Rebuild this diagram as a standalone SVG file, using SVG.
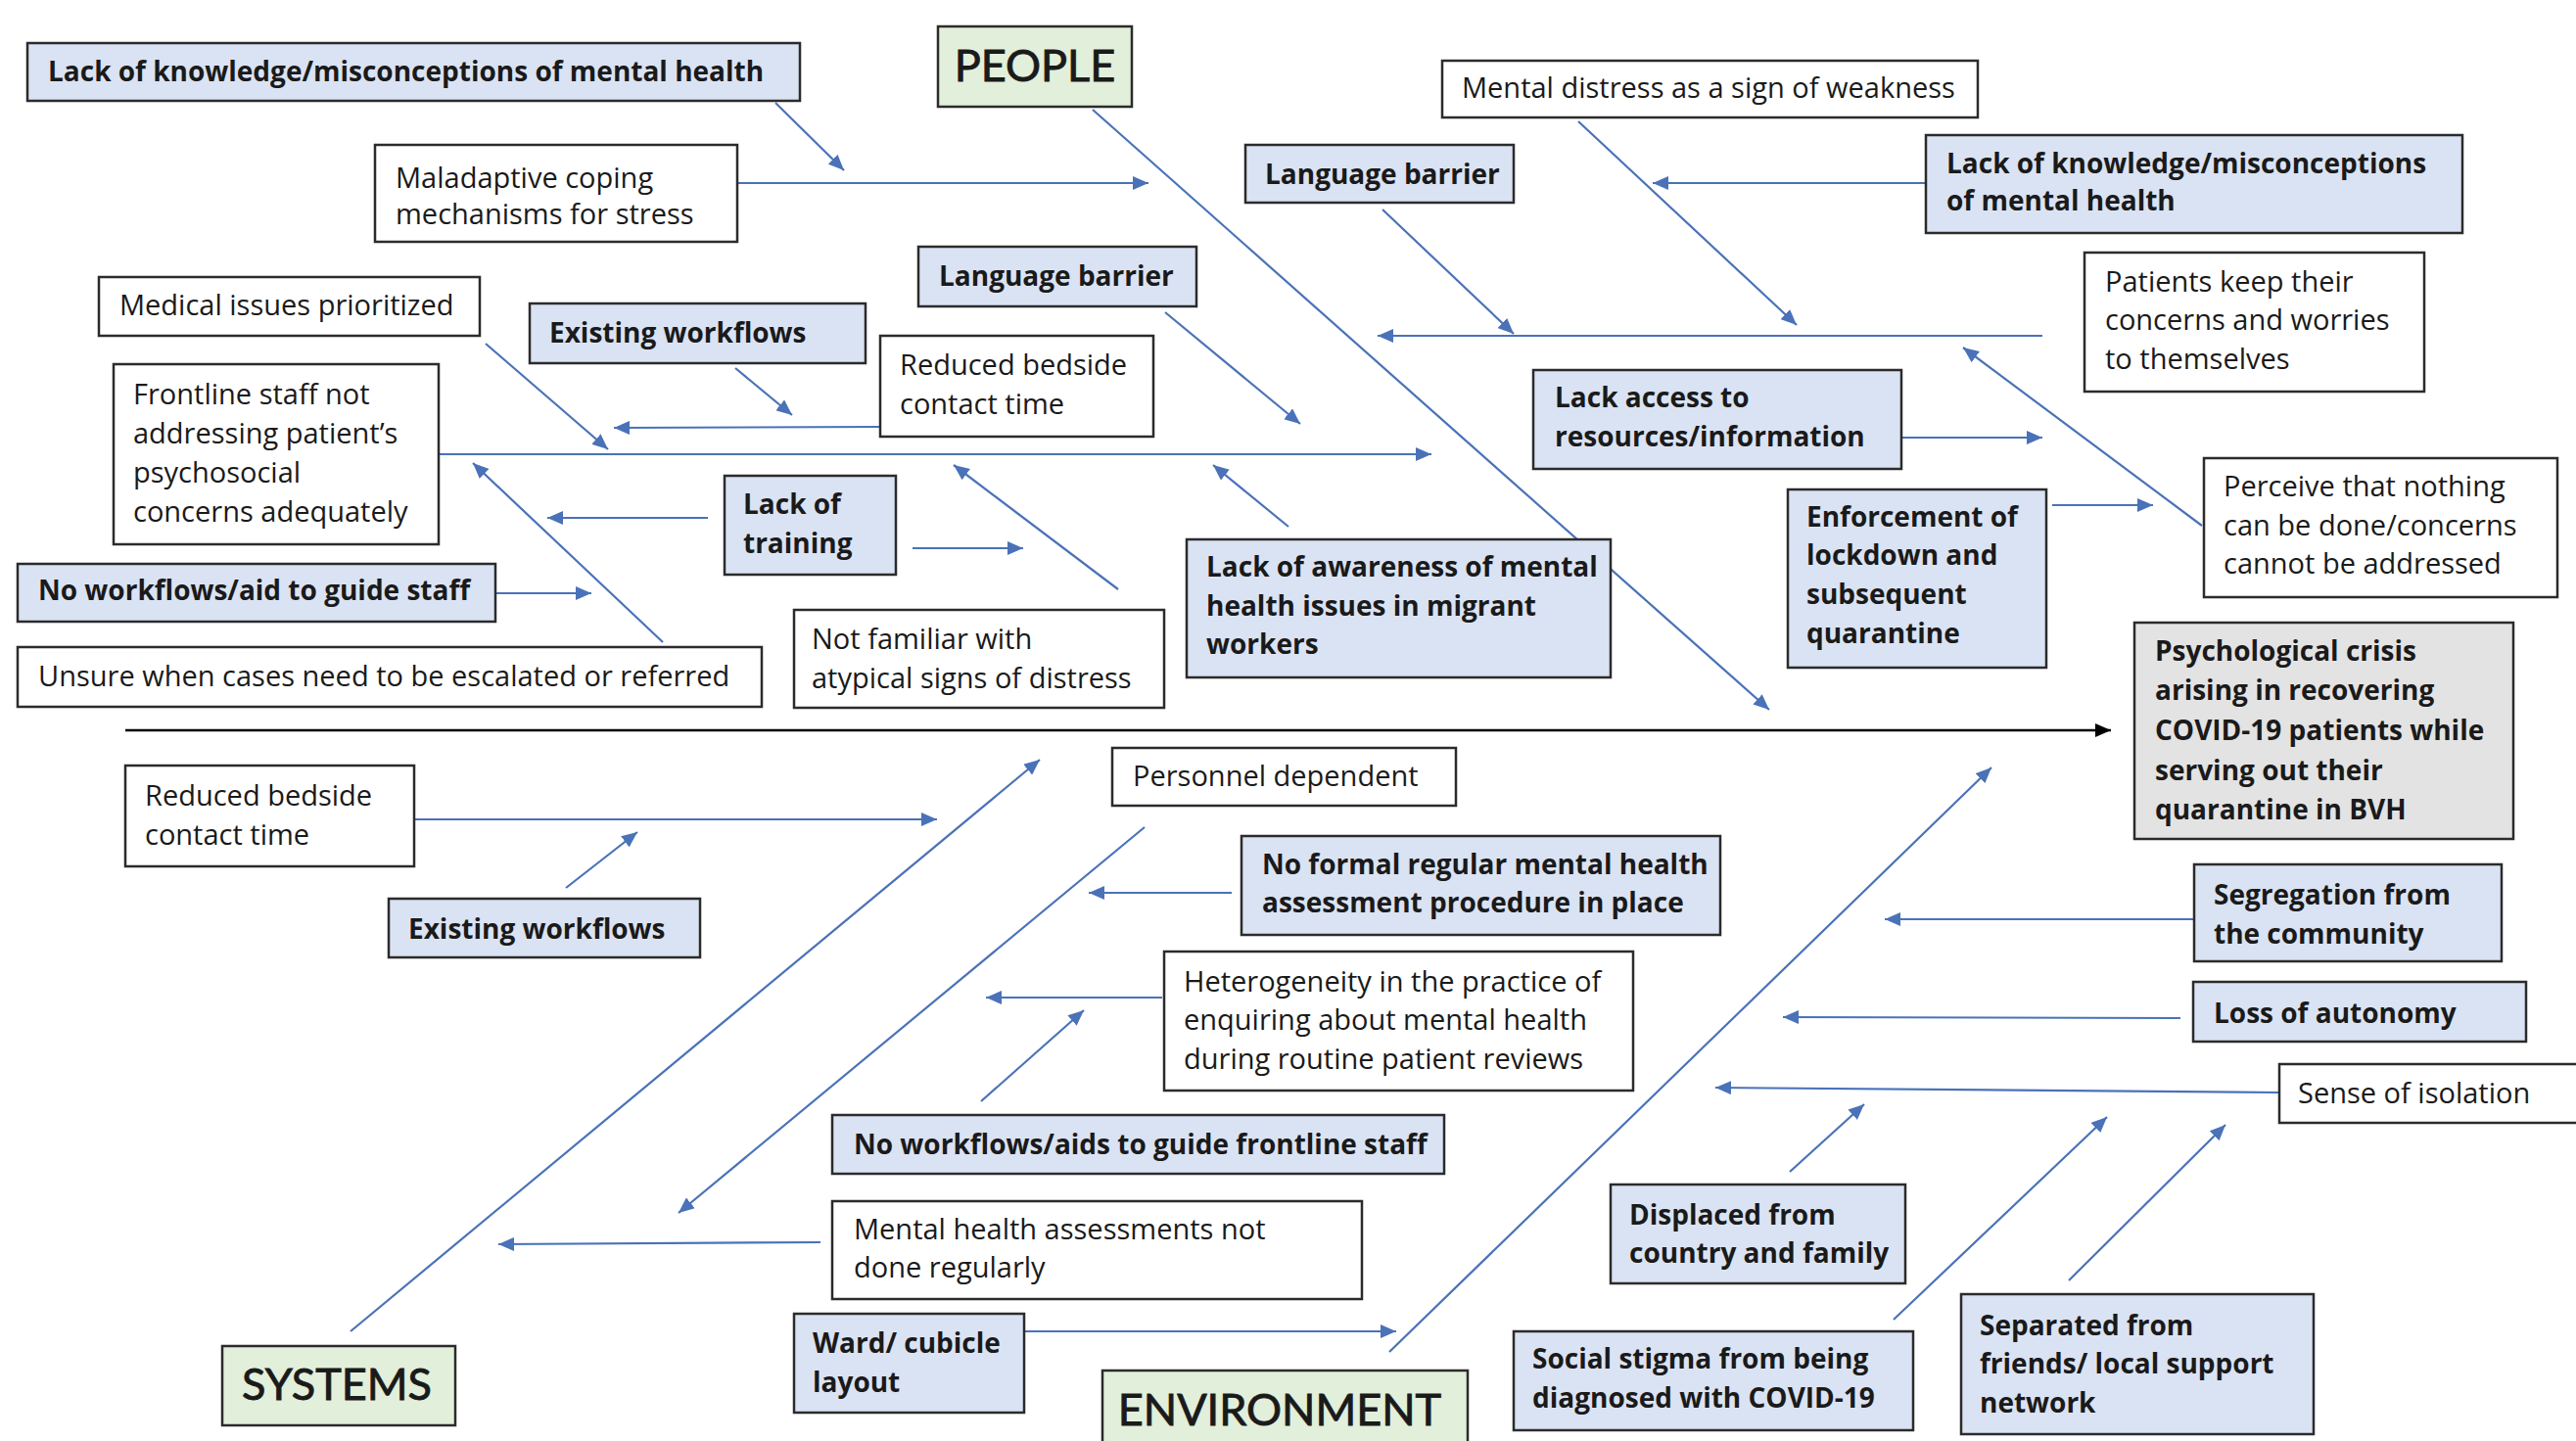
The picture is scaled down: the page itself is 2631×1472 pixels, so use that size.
<svg xmlns="http://www.w3.org/2000/svg" width="2631" height="1472" viewBox="0 0 2631 1472">
<defs>
  <style>
    .bx{stroke:#2b2b2b;stroke-width:2.5}
    .blue{fill:#dae3f3}
    .white{fill:#ffffff}
    .green{fill:#e2efda}
    .grey{fill:#e3e3e3}
    text{font-family:"Open Sans","Liberation Sans",sans-serif;fill:#1a1a1a}
    .t{font-size:29px}
    .tb{font-size:28px;font-weight:bold}
    .h{font-family:Lato,"Liberation Sans",sans-serif;font-size:45px;stroke:#1a1a1a;stroke-width:0.9}
    .c{stroke:#4a72b8;stroke-width:2.2;fill:none;marker-end:url(#ab)}
    .spine{stroke:#000;stroke-width:2.6;fill:none;marker-end:url(#ak)}
  </style>
  <marker id="ab" viewBox="0 0 16 14" refX="16" refY="7" markerWidth="16" markerHeight="14" markerUnits="userSpaceOnUse" orient="auto">
    <path d="M0,0 L16,7 L0,14 z" fill="#4a72b8"/>
  </marker>
  <marker id="ak" viewBox="0 0 16 14" refX="16" refY="7" markerWidth="16" markerHeight="14" markerUnits="userSpaceOnUse" orient="auto">
    <path d="M0,0 L16,7 L0,14 z" fill="#000"/>
  </marker>
</defs>
<rect width="2631" height="1472" fill="#ffffff"/>

<!-- connectors -->
<g id="connectors">
  <line class="spine" x1="128" y1="746" x2="2156" y2="746"/>
  <!-- PEOPLE bone and its causes -->
  <line class="c" x1="1116" y1="112" x2="1807" y2="725"/>
  <line class="c" x1="792" y1="105" x2="862" y2="174"/>
  <line class="c" x1="753" y1="187" x2="1173" y2="187"/>
  <line class="c" x1="1612" y1="124" x2="1835" y2="332"/>
  <line class="c" x1="1966" y1="187" x2="1688" y2="187"/>
  <line class="c" x1="1412" y1="214" x2="1546" y2="341"/>
  <line class="c" x1="2086" y1="343" x2="1407" y2="343"/>
  <line class="c" x1="2249" y1="537" x2="2005" y2="355"/>
  <line class="c" x1="1943" y1="447" x2="2086" y2="447"/>
  <line class="c" x1="2096" y1="516" x2="2199" y2="516"/>
  <line class="c" x1="448" y1="464" x2="1462" y2="464"/>
  <line class="c" x1="496" y1="351" x2="621" y2="459"/>
  <line class="c" x1="751" y1="376" x2="809" y2="424"/>
  <line class="c" x1="899" y1="436" x2="627" y2="437"/>
  <line class="c" x1="1190" y1="319" x2="1328" y2="433"/>
  <line class="c" x1="723" y1="529" x2="559" y2="529"/>
  <line class="c" x1="932" y1="560" x2="1045" y2="560"/>
  <line class="c" x1="677" y1="656" x2="483" y2="473"/>
  <line class="c" x1="507" y1="606" x2="604" y2="606"/>
  <line class="c" x1="1142" y1="602" x2="974" y2="475"/>
  <line class="c" x1="1316" y1="538" x2="1239" y2="475"/>
  <!-- SYSTEMS bone and its causes -->
  <line class="c" x1="358" y1="1360" x2="1062" y2="776"/>
  <line class="c" x1="423" y1="837" x2="957" y2="837"/>
  <line class="c" x1="578" y1="907" x2="651" y2="850"/>
  <line class="c" x1="1169" y1="845" x2="693" y2="1239"/>
  <line class="c" x1="1258" y1="912" x2="1112" y2="912"/>
  <line class="c" x1="1187" y1="1019" x2="1007" y2="1019"/>
  <line class="c" x1="1002" y1="1125" x2="1107" y2="1032"/>
  <line class="c" x1="838" y1="1269" x2="509" y2="1271"/>
  <!-- ENVIRONMENT bone and its causes -->
  <line class="c" x1="1419" y1="1381" x2="2034" y2="784"/>
  <line class="c" x1="1047" y1="1360" x2="1426" y2="1360"/>
  <line class="c" x1="2240" y1="939" x2="1925" y2="939"/>
  <line class="c" x1="2227" y1="1040" x2="1821" y2="1039"/>
  <line class="c" x1="2328" y1="1116" x2="1752" y2="1111"/>
  <line class="c" x1="1828" y1="1197" x2="1904" y2="1128"/>
  <line class="c" x1="1934" y1="1348" x2="2152" y2="1141"/>
  <line class="c" x1="2113" y1="1308" x2="2273" y2="1149"/>
</g>

<!-- category heads -->
<g id="people">
  <rect class="bx green" x="958" y="27" width="198" height="82"/>
  <text class="h" x="1057" y="83" text-anchor="middle">PEOPLE</text>
</g>
<g id="systems">
  <rect class="bx green" x="227" y="1375" width="238" height="81"/>
  <text class="h" x="344" y="1430" text-anchor="middle">SYSTEMS</text>
</g>
<g id="environment">
  <rect class="bx green" x="1126" y="1400" width="373" height="90"/>
  <text class="h" x="1307" y="1456" text-anchor="middle">ENVIRONMENT</text>
</g>
<g id="outcome">
  <rect class="bx grey" x="2180" y="636" width="387" height="221"/>
  <text class="tb" x="2201" y="675">Psychological crisis</text>
  <text class="tb" x="2201" y="715">arising in recovering</text>
  <text class="tb" x="2201" y="756">COVID-19 patients while</text>
  <text class="tb" x="2201" y="797">serving out their</text>
  <text class="tb" x="2201" y="837">quarantine in BVH</text>
</g>

<!-- PEOPLE causes -->
<g id="p-knowledge-1">
  <rect class="bx blue" x="28" y="44" width="789" height="59"/>
  <text class="tb" x="49" y="83">Lack of knowledge/misconceptions of mental health</text>
</g>
<g id="p-coping">
  <rect class="bx white" x="383" y="148" width="370" height="99"/>
  <text class="t" x="404" y="192">Maladaptive coping</text>
  <text class="t" x="404" y="229">mechanisms for stress</text>
</g>
<g id="p-weakness">
  <rect class="bx white" x="1473" y="62" width="547" height="58"/>
  <text class="t" x="1493" y="100">Mental distress as a sign of weakness</text>
</g>
<g id="p-language-1">
  <rect class="bx blue" x="1272" y="148" width="274" height="59"/>
  <text class="tb" x="1292" y="188">Language barrier</text>
</g>
<g id="p-knowledge-2">
  <rect class="bx blue" x="1967" y="138" width="548" height="100"/>
  <text class="tb" x="1988" y="177">Lack of knowledge/misconceptions</text>
  <text class="tb" x="1988" y="215">of mental health</text>
</g>
<g id="p-keep">
  <rect class="bx white" x="2129" y="258" width="347" height="142"/>
  <text class="t" x="2150" y="298">Patients keep their</text>
  <text class="t" x="2150" y="337">concerns and worries</text>
  <text class="t" x="2150" y="377">to themselves</text>
</g>
<g id="p-access">
  <rect class="bx blue" x="1566" y="378" width="376" height="101"/>
  <text class="tb" x="1588" y="416">Lack access to</text>
  <text class="tb" x="1588" y="456">resources/information</text>
</g>
<g id="p-lockdown">
  <rect class="bx blue" x="1826" y="500" width="264" height="182"/>
  <text class="tb" x="1845" y="538">Enforcement of</text>
  <text class="tb" x="1845" y="577">lockdown and</text>
  <text class="tb" x="1845" y="617">subsequent</text>
  <text class="tb" x="1845" y="657">quarantine</text>
</g>
<g id="p-perceive">
  <rect class="bx white" x="2251" y="468" width="361" height="142"/>
  <text class="t" x="2271" y="507">Perceive that nothing</text>
  <text class="t" x="2271" y="547">can be done/concerns</text>
  <text class="t" x="2271" y="586">cannot be addressed</text>
</g>
<g id="p-medical">
  <rect class="bx white" x="101" y="283" width="389" height="60"/>
  <text class="t" x="122" y="322">Medical issues prioritized</text>
</g>
<g id="p-workflows">
  <rect class="bx blue" x="541" y="310" width="343" height="61"/>
  <text class="tb" x="561" y="350">Existing workflows</text>
</g>
<g id="p-language-2">
  <rect class="bx blue" x="938" y="252" width="284" height="61"/>
  <text class="tb" x="959" y="292">Language barrier</text>
</g>
<g id="p-bedside">
  <rect class="bx white" x="899" y="343" width="279" height="103"/>
  <text class="t" x="919" y="383">Reduced bedside</text>
  <text class="t" x="919" y="423">contact time</text>
</g>
<g id="p-frontline">
  <rect class="bx white" x="116" y="372" width="332" height="184"/>
  <text class="t" x="136" y="413">Frontline staff not</text>
  <text class="t" x="136" y="453">addressing patient’s</text>
  <text class="t" x="136" y="493">psychosocial</text>
  <text class="t" x="136" y="533">concerns adequately</text>
</g>
<g id="p-training">
  <rect class="bx blue" x="740" y="486" width="175" height="101"/>
  <text class="tb" x="759" y="525">Lack of</text>
  <text class="tb" x="759" y="565">training</text>
</g>
<g id="p-noworkflows">
  <rect class="bx blue" x="18" y="576" width="488" height="59"/>
  <text class="tb" x="39" y="613">No workflows/aid to guide staff</text>
</g>
<g id="p-unsure">
  <rect class="bx white" x="18" y="661" width="760" height="61"/>
  <text class="t" x="39" y="701">Unsure when cases need to be escalated or referred</text>
</g>
<g id="p-atypical">
  <rect class="bx white" x="811" y="623" width="378" height="100"/>
  <text class="t" x="829" y="663">Not familiar with</text>
  <text class="t" x="829" y="703">atypical signs of distress</text>
</g>
<g id="p-awareness">
  <rect class="bx blue" x="1212" y="551" width="433" height="141"/>
  <text class="tb" x="1232" y="589">Lack of awareness of mental</text>
  <text class="tb" x="1232" y="629">health issues in migrant</text>
  <text class="tb" x="1232" y="668">workers</text>
</g>

<!-- SYSTEMS causes -->
<g id="s-bedside">
  <rect class="bx white" x="128" y="782" width="295" height="103"/>
  <text class="t" x="148" y="823">Reduced bedside</text>
  <text class="t" x="148" y="863">contact time</text>
</g>
<g id="s-workflows">
  <rect class="bx blue" x="397" y="918" width="318" height="60"/>
  <text class="tb" x="417" y="959">Existing workflows</text>
</g>
<g id="s-personnel">
  <rect class="bx white" x="1136" y="764" width="351" height="59"/>
  <text class="t" x="1157" y="803">Personnel dependent</text>
</g>
<g id="s-noformal">
  <rect class="bx blue" x="1268" y="854" width="489" height="101"/>
  <text class="tb" x="1289" y="893">No formal regular mental health</text>
  <text class="tb" x="1289" y="932">assessment procedure in place</text>
</g>
<g id="s-heterogeneity">
  <rect class="bx white" x="1189" y="972" width="479" height="142"/>
  <text class="t" x="1209" y="1013">Heterogeneity in the practice of</text>
  <text class="t" x="1209" y="1052">enquiring about mental health</text>
  <text class="t" x="1209" y="1092">during routine patient reviews</text>
</g>
<g id="s-noaids">
  <rect class="bx blue" x="850" y="1139" width="625" height="60"/>
  <text class="tb" x="872" y="1179">No workflows/aids to guide frontline staff</text>
</g>
<g id="s-assessments">
  <rect class="bx white" x="850" y="1227" width="541" height="100"/>
  <text class="t" x="872" y="1266">Mental health assessments not</text>
  <text class="t" x="872" y="1305">done regularly</text>
</g>

<!-- ENVIRONMENT causes -->
<g id="e-ward">
  <rect class="bx blue" x="811" y="1342" width="235" height="101"/>
  <text class="tb" x="830" y="1382">Ward/ cubicle</text>
  <text class="tb" x="830" y="1422">layout</text>
</g>
<g id="e-segregation">
  <rect class="bx blue" x="2241" y="883" width="314" height="99"/>
  <text class="tb" x="2261" y="924">Segregation from</text>
  <text class="tb" x="2261" y="964">the community</text>
</g>
<g id="e-autonomy">
  <rect class="bx blue" x="2240" y="1003" width="340" height="61"/>
  <text class="tb" x="2261" y="1045">Loss of autonomy</text>
</g>
<g id="e-isolation">
  <rect class="bx white" x="2328" y="1087" width="320" height="60"/>
  <text class="t" x="2347" y="1127">Sense of isolation</text>
</g>
<g id="e-displaced">
  <rect class="bx blue" x="1645" y="1210" width="301" height="101"/>
  <text class="tb" x="1664" y="1251">Displaced from</text>
  <text class="tb" x="1664" y="1290">country and family</text>
</g>
<g id="e-stigma">
  <rect class="bx blue" x="1546" y="1360" width="408" height="101"/>
  <text class="tb" x="1565" y="1398">Social stigma from being</text>
  <text class="tb" x="1565" y="1438">diagnosed with COVID-19</text>
</g>
<g id="e-separated">
  <rect class="bx blue" x="2003" y="1322" width="360" height="143"/>
  <text class="tb" x="2022" y="1364">Separated from</text>
  <text class="tb" x="2022" y="1403">friends/ local support</text>
  <text class="tb" x="2022" y="1443">network</text>
</g>
</svg>
